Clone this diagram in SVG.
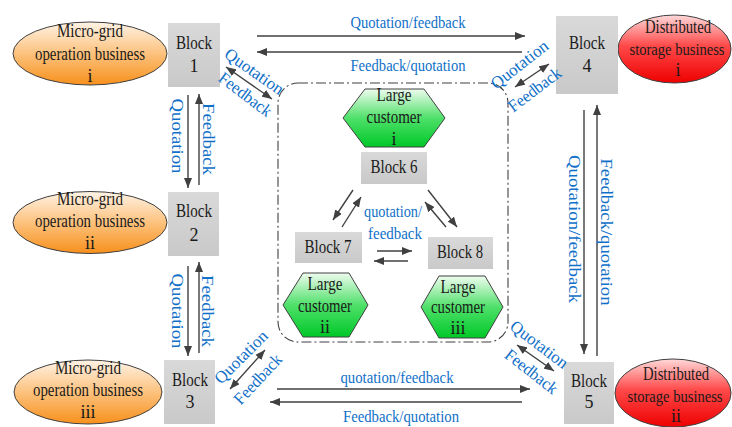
<svg xmlns="http://www.w3.org/2000/svg" width="732" height="427" viewBox="0 0 732 427">
  <defs>
    <linearGradient id="gOrange" x1="0" y1="0" x2="0" y2="1">
      <stop offset="0" stop-color="#fff3e6"/>
      <stop offset="0.5" stop-color="#fcc27e"/>
      <stop offset="1" stop-color="#f7901c"/>
    </linearGradient>
    <linearGradient id="gRed" x1="0" y1="0" x2="0" y2="1">
      <stop offset="0" stop-color="#ffd9d9"/>
      <stop offset="0.45" stop-color="#ff4a4a"/>
      <stop offset="1" stop-color="#ee0000"/>
    </linearGradient>
    <linearGradient id="gGreen" x1="0" y1="0" x2="0" y2="1">
      <stop offset="0" stop-color="#effcef"/>
      <stop offset="0.5" stop-color="#4fe06a"/>
      <stop offset="1" stop-color="#00c828"/>
    </linearGradient>
    <linearGradient id="gBlock" x1="0" y1="0" x2="0" y2="1">
      <stop offset="0" stop-color="#d9d9d9"/>
      <stop offset="1" stop-color="#c9c9c9"/>
    </linearGradient>
    <marker id="arr" viewBox="0 0 10 8" markerWidth="10" markerHeight="8" refX="10" refY="4" orient="auto-start-reverse" markerUnits="userSpaceOnUse">
      <path d="M0,0 L10,4 L0,8 z" fill="#404040"/>
    </marker>
    <style>
      .t { font-family: "Liberation Serif", "Times New Roman", serif; font-size: 18px; fill: #1a1a1a; text-anchor: middle; }
      .t.sm { font-size: 16.5px; }
      .lbl { font-family: "Liberation Serif", "Times New Roman", serif; font-size: 17px; fill: #1070c8; text-anchor: middle; }
      .blk { fill: url(#gBlock); }
      .ell { stroke: #404040; stroke-width: 1; }
      .hex { fill: url(#gGreen); stroke: #404040; stroke-width: 1; }
      .ln { stroke: #404040; stroke-width: 1.4; fill: none; }
      .one { marker-end: url(#arr); }
      .two { marker-start: url(#arr); marker-end: url(#arr); }
    </style>
  </defs>

  <!-- large-customer region -->
  <rect x="278" y="83" width="230" height="259" rx="20" ry="20" fill="none" stroke="#404040" stroke-width="1.1" stroke-dasharray="10,3,2,3"/>

  <!-- micro-grid operation businesses -->
  <g id="mg1">
    <ellipse class="ell" cx="90" cy="53.5" rx="77" ry="31.5" fill="url(#gOrange)"/>
    <text class="t" x="90" y="37" textLength="66" lengthAdjust="spacingAndGlyphs">Micro-grid</text>
    <text class="t" x="90" y="60" textLength="110" lengthAdjust="spacingAndGlyphs">operation business</text>
    <text class="t" x="90" y="82">i</text>
  </g>
  <g id="mg2">
    <ellipse class="ell" cx="90" cy="222.5" rx="77" ry="31" fill="url(#gOrange)"/>
    <text class="t" x="90" y="205" textLength="66" lengthAdjust="spacingAndGlyphs">Micro-grid</text>
    <text class="t" x="90" y="227" textLength="110" lengthAdjust="spacingAndGlyphs">operation business</text>
    <text class="t" x="90" y="249">ii</text>
  </g>
  <g id="mg3">
    <ellipse class="ell" cx="88" cy="392" rx="74" ry="32" fill="url(#gOrange)"/>
    <text class="t" x="88" y="374" textLength="66" lengthAdjust="spacingAndGlyphs">Micro-grid</text>
    <text class="t" x="88" y="396" textLength="110" lengthAdjust="spacingAndGlyphs">operation business</text>
    <text class="t" x="88" y="418">iii</text>
  </g>

  <!-- distributed storage businesses -->
  <g id="ds1">
    <ellipse class="ell" cx="674.5" cy="49" rx="56.5" ry="34" fill="url(#gRed)"/>
    <text class="t" x="678" y="33" textLength="66" lengthAdjust="spacingAndGlyphs">Distributed</text>
    <text class="t sm" x="677" y="55" textLength="95" lengthAdjust="spacingAndGlyphs">storage business</text>
    <text class="t" x="678" y="76">i</text>
  </g>
  <g id="ds2">
    <ellipse class="ell" cx="673" cy="393" rx="58" ry="34" fill="url(#gRed)"/>
    <text class="t" x="676" y="380" textLength="66" lengthAdjust="spacingAndGlyphs">Distributed</text>
    <text class="t sm" x="675" y="402" textLength="95" lengthAdjust="spacingAndGlyphs">storage business</text>
    <text class="t" x="676" y="422">ii</text>
  </g>

  <!-- blocks -->
  <g id="block1">
    <rect class="blk" x="168" y="23" width="52" height="64"/>
    <text class="t" x="194" y="49" textLength="36" lengthAdjust="spacingAndGlyphs">Block</text>
    <text class="t" x="194" y="72">1</text>
  </g>
  <g id="block2">
    <rect class="blk" x="168" y="192" width="51" height="64"/>
    <text class="t" x="194" y="217" textLength="36" lengthAdjust="spacingAndGlyphs">Block</text>
    <text class="t" x="194" y="241">2</text>
  </g>
  <g id="block3">
    <rect class="blk" x="164" y="360" width="51" height="64"/>
    <text class="t" x="190" y="386" textLength="36" lengthAdjust="spacingAndGlyphs">Block</text>
    <text class="t" x="190" y="408">3</text>
  </g>
  <g id="block4">
    <rect class="blk" x="556" y="16" width="62" height="78"/>
    <text class="t" x="587" y="49" textLength="36" lengthAdjust="spacingAndGlyphs">Block</text>
    <text class="t" x="587" y="72">4</text>
  </g>
  <g id="block5">
    <rect class="blk" x="564" y="362" width="50" height="62"/>
    <text class="t" x="589" y="387" textLength="36" lengthAdjust="spacingAndGlyphs">Block</text>
    <text class="t" x="589" y="408">5</text>
  </g>
  <g id="block6">
    <rect class="blk" x="361" y="152" width="66" height="32"/>
    <text class="t" x="394" y="173" textLength="47" lengthAdjust="spacingAndGlyphs">Block 6</text>
  </g>
  <g id="block7">
    <rect class="blk" x="295" y="232" width="67" height="31"/>
    <text class="t" x="328" y="253" textLength="47" lengthAdjust="spacingAndGlyphs">Block 7</text>
  </g>
  <g id="block8">
    <rect class="blk" x="428" y="237" width="65" height="32"/>
    <text class="t" x="460" y="258" textLength="46" lengthAdjust="spacingAndGlyphs">Block 8</text>
  </g>

  <!-- large customers -->
  <g id="lc1">
    <polygon class="hex" points="343,118 365,89 424,89 445,118 424,147 365,147"/>
    <text class="t" x="394" y="101" textLength="35" lengthAdjust="spacingAndGlyphs">Large</text>
    <text class="t" x="394" y="123" textLength="55" lengthAdjust="spacingAndGlyphs">customer</text>
    <text class="t" x="394" y="145">i</text>
  </g>
  <g id="lc2">
    <polygon class="hex" points="283,305 303,273 349,273 368,305 349,337 303,337"/>
    <text class="t" x="325" y="290" textLength="35" lengthAdjust="spacingAndGlyphs">Large</text>
    <text class="t" x="325" y="312" textLength="54" lengthAdjust="spacingAndGlyphs">customer</text>
    <text class="t" x="325" y="333">ii</text>
  </g>
  <g id="lc3">
    <polygon class="hex" points="421,307 439,276 485,276 503,307 485,338 439,338"/>
    <text class="t" x="458" y="293" textLength="35" lengthAdjust="spacingAndGlyphs">Large</text>
    <text class="t" x="458" y="313" textLength="54" lengthAdjust="spacingAndGlyphs">customer</text>
    <text class="t" x="458" y="334">iii</text>
  </g>

  <!-- connectors -->
  <g id="connectors">
    <!-- block 1 <-> block 4 -->
    <line class="ln one" x1="257" y1="36" x2="525" y2="36"/>
    <line class="ln one" x1="522" y1="52" x2="257" y2="52"/>
    <!-- block 3 <-> block 5 -->
    <line class="ln one" x1="277" y1="389" x2="530" y2="389"/>
    <line class="ln one" x1="522" y1="402" x2="270" y2="402"/>
    <!-- block 1 <-> block 2 -->
    <line class="ln one" x1="188" y1="95" x2="188" y2="188"/>
    <line class="ln one" x1="199" y1="185" x2="199" y2="94"/>
    <!-- block 2 <-> block 3 -->
    <line class="ln one" x1="188" y1="266" x2="188" y2="356"/>
    <line class="ln one" x1="199" y1="353" x2="199" y2="262"/>
    <!-- block 4 <-> block 5 -->
    <line class="ln one" x1="584" y1="110" x2="584" y2="354"/>
    <line class="ln one" x1="597" y1="356" x2="597" y2="105"/>
    <!-- corner links to the large-customer region -->
    <line class="ln two" x1="226" y1="67" x2="272" y2="99"/>
    <line class="ln two" x1="549" y1="64" x2="515" y2="87"/>
    <line class="ln two" x1="230" y1="389" x2="265" y2="350"/>
    <line class="ln two" x1="517" y1="345" x2="554" y2="371"/>
    <!-- inside the region -->
    <line class="ln one" x1="353" y1="190" x2="333" y2="220"/>
    <line class="ln one" x1="342" y1="227" x2="361" y2="197"/>
    <line class="ln one" x1="428" y1="190" x2="457" y2="227"/>
    <line class="ln one" x1="446" y1="227" x2="425" y2="202"/>
    <line class="ln one" x1="377" y1="251" x2="412" y2="251"/>
    <line class="ln one" x1="408" y1="261" x2="374" y2="261"/>
  </g>

  <!-- connector labels -->
  <g id="labels">
    <text class="lbl" x="408" y="28" textLength="115" lengthAdjust="spacingAndGlyphs">Quotation/feedback</text>
    <text class="lbl" x="408" y="71" textLength="115" lengthAdjust="spacingAndGlyphs">Feedback/quotation</text>
    <text class="lbl" x="397" y="383" textLength="113" lengthAdjust="spacingAndGlyphs">quotation/feedback</text>
    <text class="lbl" x="401" y="422" textLength="116" lengthAdjust="spacingAndGlyphs">Feedback/quotation</text>
    <text class="lbl" x="393" y="217" textLength="58" lengthAdjust="spacingAndGlyphs">quotation/</text>
    <text class="lbl" x="395" y="239" textLength="54" lengthAdjust="spacingAndGlyphs">feedback</text>

    <text class="lbl" transform="translate(172,136) rotate(90)" textLength="75" lengthAdjust="spacingAndGlyphs">Quotation</text>
    <text class="lbl" transform="translate(203,139) rotate(90)" textLength="72" lengthAdjust="spacingAndGlyphs">Feedback</text>
    <text class="lbl" transform="translate(172,311) rotate(90)" textLength="75" lengthAdjust="spacingAndGlyphs">Quotation</text>
    <text class="lbl" transform="translate(202,311) rotate(90)" textLength="72" lengthAdjust="spacingAndGlyphs">Feedback</text>
    <text class="lbl" transform="translate(569,229) rotate(90)" textLength="148" lengthAdjust="spacingAndGlyphs">Quotation/feedback</text>
    <text class="lbl" transform="translate(601,232) rotate(90)" textLength="147" lengthAdjust="spacingAndGlyphs">Feedback/quotation</text>

    <text class="lbl" transform="translate(251,76) rotate(35)" textLength="68" lengthAdjust="spacingAndGlyphs">Quotation</text>
    <text class="lbl" transform="translate(242,99) rotate(37)" textLength="62" lengthAdjust="spacingAndGlyphs">Feedback</text>
    <text class="lbl" transform="translate(523,69) rotate(-38)" textLength="68" lengthAdjust="spacingAndGlyphs">Quotation</text>
    <text class="lbl" transform="translate(538,94) rotate(-37)" textLength="62" lengthAdjust="spacingAndGlyphs">Feedback</text>
    <text class="lbl" transform="translate(245,361) rotate(-45)" textLength="68" lengthAdjust="spacingAndGlyphs">Quotation</text>
    <text class="lbl" transform="translate(262,383) rotate(-47)" textLength="62" lengthAdjust="spacingAndGlyphs">Feedback</text>
    <text class="lbl" transform="translate(536,349) rotate(37)" textLength="68" lengthAdjust="spacingAndGlyphs">Quotation</text>
    <text class="lbl" transform="translate(528,376) rotate(38)" textLength="62" lengthAdjust="spacingAndGlyphs">Feedback</text>
  </g>
</svg>
